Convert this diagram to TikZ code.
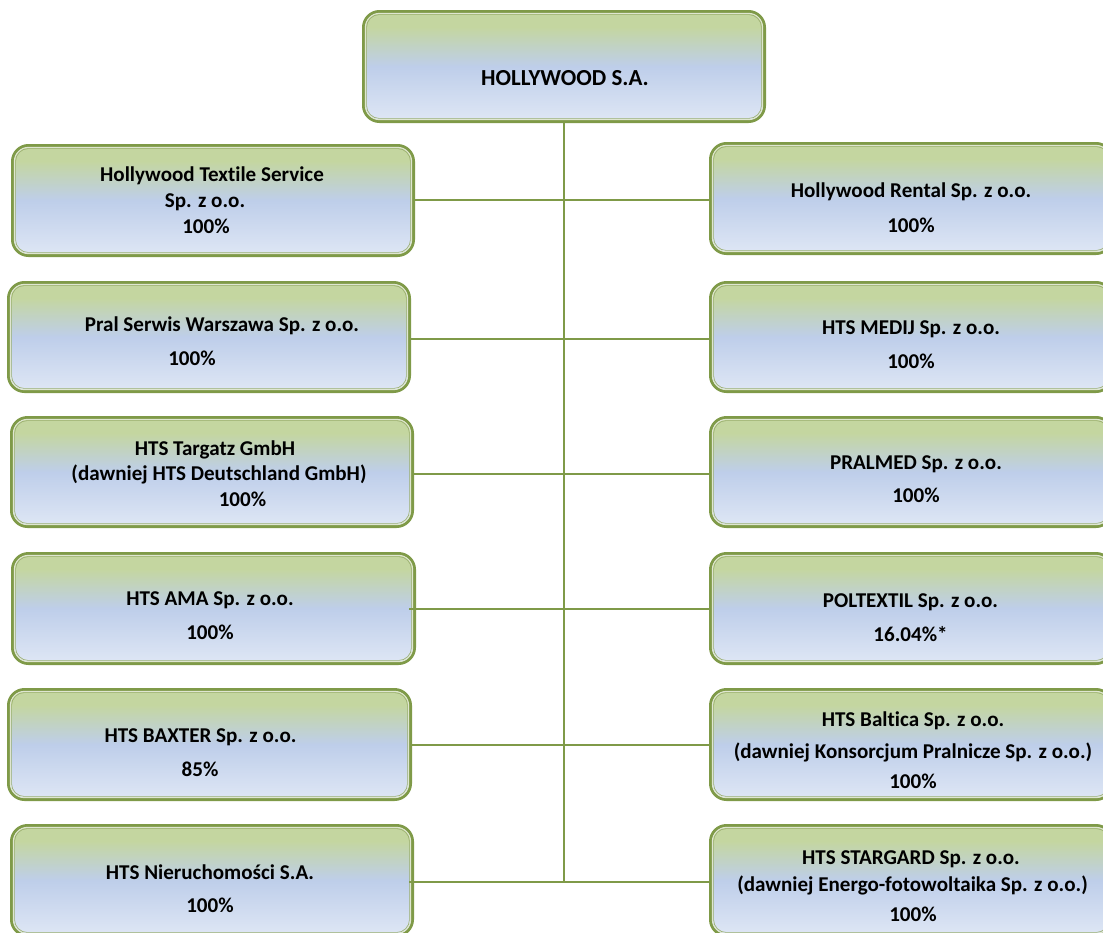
\documentclass[tikz,border=0pt]{standalone}
\usepackage{fontspec}
\setmainfont[Ligatures={NoCommon}]{Carlito}
\definecolor{gline}{HTML}{7F9A48}
\definecolor{gtop}{HTML}{C4D6A0}
\definecolor{gmid}{HTML}{BECEEA}
\definecolor{gbot}{HTML}{DFE7F5}
\pgfdeclareverticalshading{orgfill}{100bp}{color(0bp)=(gbot); color(25bp)=(gbot); color(50bp)=(gmid); color(68bp)=(gtop); color(100bp)=(gtop)}
\tikzset{
  orgbox/.style={rounded corners=12pt, shading=orgfill, draw=gline, line width=2.25pt, inner sep=0pt, outer sep=0pt},
  orggap/.style={rounded corners=10.8pt, draw=white!75!gline, line width=0.7pt},
  orginner/.style={rounded corners=9.6pt, draw=gline!80, line width=0.45pt},
  orglabel/.style={font=\bfseries\fontsize{15.8pt}{18pt}\selectfont, text=black, inner sep=0pt, anchor=base},
  orgtitle/.style={font=\bfseries\fontsize{17.2pt}{20pt}\selectfont, text=black, inner sep=0pt, anchor=base},
  orgline/.style={draw=gline, line width=1.3pt},
}
\newcommand{\orgunit}[5]{%
  \node[orgbox, minimum width=#4*0.75pt-#2*0.75pt, minimum height=#5*0.75pt-#3*0.75pt, anchor=north west] (#1) at (#2,#3) {};
  \draw[orggap] ([xshift=1.35pt,yshift=-1.35pt]#1.north west) rectangle ([xshift=-1.35pt,yshift=1.35pt]#1.south east);
  \draw[orginner] ([xshift=2.3pt,yshift=-2.3pt]#1.north west) rectangle ([xshift=-2.3pt,yshift=2.3pt]#1.south east);
}
\begin{document}
\begin{tikzpicture}[x=0.75pt,y=-0.75pt]
\useasboundingbox (0,0) rectangle (1103,932);
\clip (0,0) rectangle (1103,932);
\coordinate (jA) at (564,200);
\coordinate (jB) at (564,339);
\coordinate (jC) at (564,474);
\coordinate (jD) at (564,609);
\coordinate (jE) at (564,745);
\coordinate (jF) at (564,882);
\orgunit{top}{363.5}{11.5}{764.5}{121.5}
\orgunit{la}{12.5}{145.5}{413.5}{255.5}
\orgunit{lb}{8.5}{282.5}{409.5}{391.5}
\orgunit{lc}{11.5}{417.5}{412.5}{526.5}
\orgunit{ld}{12.5}{553.5}{414.5}{663.5}
\orgunit{le}{8.5}{689.5}{410.5}{799.5}
\orgunit{lf}{11.5}{825.5}{412.5}{935.5}
\orgunit{ra}{710.5}{143.5}{1112}{253.5}
\orgunit{rb}{710.5}{282.5}{1112}{391.5}
\orgunit{rc}{710.5}{417.5}{1112}{526.5}
\orgunit{rd}{710.5}{553.5}{1112}{663.5}
\orgunit{re}{710.5}{689.5}{1112}{799.5}
\orgunit{rf}{710.5}{825.5}{1112}{935.5}
\draw[orgline] (top.south -| jF) -- (jF);
\draw[orgline] (la.east |- jA) -- (ra.west |- jA);
\draw[orgline] (lb.east |- jB) -- (rb.west |- jB);
\draw[orgline] (lc.east |- jC) -- (rc.west |- jC);
\draw[orgline] ([xshift=-4pt]ld.east |- jD) -- ([xshift=-1.5pt]rd.west |- jD);
\draw[orgline] (le.east |- jE) -- (re.west |- jE);
\draw[orgline] ([xshift=-2.5pt]lf.east |- jF) -- (rf.west |- jF);
\node[orgtitle] (t0) at (565,85) {HOLLYWOOD S.A.};
\node[orglabel] (t1) at (212,181) {Hollywood Textile Service};
\node[orglabel] (t2) at (205,207) {Sp. z o.o.};
\node[orglabel] (t3) at (206,233) {100\%};
\node[orglabel] (t4) at (222,331) {Pral Serwis Warszawa Sp. z o.o.};
\node[orglabel] (t5) at (192,365) {100\%};
\node[orglabel] (t6) at (215,455) {HTS Targatz GmbH};
\node[orglabel] (t7) at (219,480) {(dawniej HTS Deutschland GmbH)};
\node[orglabel] (t8) at (242.5,506) {100\%};
\node[orglabel] (t9) at (210,605) {HTS AMA Sp. z o.o.};
\node[orglabel] (t10) at (210,639) {100\%};
\node[orglabel] (t11) at (200.5,742) {HTS BAXTER Sp. z o.o.};
\node[orglabel] (t12) at (200,776) {85\%};
\node[orglabel] (t13) at (210,879) {HTS Nieruchomości S.A.};
\node[orglabel] (t14) at (210,912) {100\%};
\node[orglabel] (t15) at (911,197) {Hollywood Rental Sp. z o.o.};
\node[orglabel] (t16) at (911,232) {100\%};
\node[orglabel] (t17) at (911,334) {HTS MEDIJ Sp. z o.o.};
\node[orglabel] (t18) at (911,368) {100\%};
\node[orglabel] (t19) at (916,469) {PRALMED Sp. z o.o.};
\node[orglabel] (t20) at (916,502) {100\%};
\node[orglabel] (t21) at (910.5,607) {POLTEXTIL Sp. z o.o.};
\node[orglabel] (t22) at (910.5,641) {16.04\%*};
\node[orglabel] (t23) at (913,726) {HTS Baltica Sp. z o.o.};
\node[orglabel] (t24) at (913,758) {(dawniej Konsorcjum Pralnicze Sp. z o.o.)};
\node[orglabel] (t25) at (913,788) {100\%};
\node[orglabel] (t26) at (911,864) {HTS STARGARD Sp. z o.o.};
\node[orglabel] (t27) at (912.5,891) {(dawniej Energo-fotowoltaika Sp. z o.o.)};
\node[orglabel] (t28) at (913,921) {100\%};
\end{tikzpicture}
\end{document}
